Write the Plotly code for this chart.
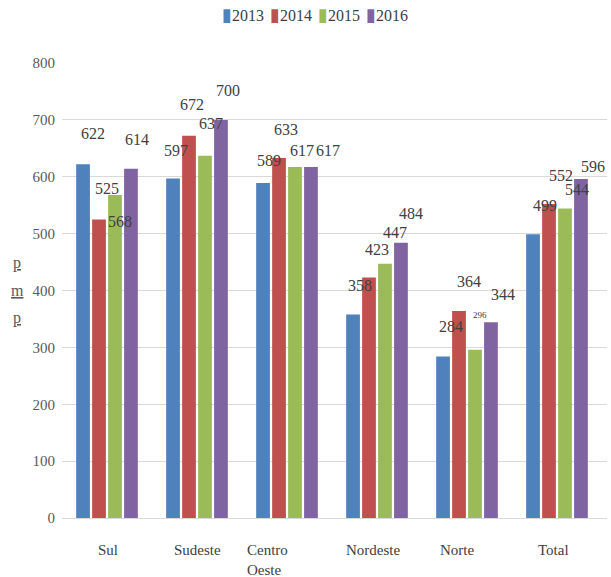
import plotly.graph_objects as go

categories = ["Sul", "Sudeste", "Centro Oeste", "Nordeste", "Norte", "Total"]
cat_labels = ["Sul", "Sudeste", "Centro<br>Oeste", "Nordeste", "Norte", "Total"]
years = ["2013", "2014", "2015", "2016"]
v2013 = [622, 597, 589, 358, 284, 499]
v2014 = [525, 672, 633, 423, 364, 552]
v2015 = [568, 637, 617, 447, 296, 544]
v2016 = [614, 700, 617, 484, 344, 596]
series = [v2013, v2014, v2015, v2016]
colors = ["#4F81BD", "#C0504D", "#9BBB59", "#8064A2"]

label_dx = [
    [10, 3, 6, 7, 8, 12],
    [8, 3, 7, 8, 10, 12],
    [5, 6, 7, 10, 5, 12],
    [6, 7, 17, 10, 12, 12],
]
label_dy = [
    [31, 28, 23, 29, 30, 29],
    [31, 31, 28, 28, 29, 29],
    [-27, 32, 17, 31, 35, 19],
    [29, 29, 17, 29, 28, 13],
]
label_size = [
    [16] * 6,
    [16] * 6,
    [16, 16, 16, 16, 9, 16],
    [16] * 6,
]
cat_dx = [1, 0, -20, -4, -10, -4]

SERIF = "Liberation Serif"
fig = go.Figure()
for yr, vals, col in zip(years, series, colors):
    fig.add_trace(go.Bar(name=yr, x=categories, y=vals, marker_color=col,
                         marker_line_width=0))

annotations = []
slot = 16
for i, vals in enumerate(series):
    for j, v in enumerate(vals):
        annotations.append(dict(
            x=categories[j], y=v, xref="x", yref="y", text=str(v), showarrow=False,
            xanchor="center", yanchor="middle",
            xshift=(i - 1.5) * slot + label_dx[i][j], yshift=label_dy[i][j],
            font=dict(family=SERIF, size=label_size[i][j], color="#404040")))

for j, lab in enumerate(cat_labels):
    annotations.append(dict(
        x=categories[j], y=0, xref="x", yref="y", text=lab, showarrow=False,
        xanchor="center", yanchor="top", align="left", xshift=cat_dx[j], yshift=-22,
        font=dict(family=SERIF, size=15, color="#404040")))

L, R, T, B, W, H = 62, 4, 63, 59, 611, 577
pw, ph = W - L - R, H - T - B
for ch, py in zip(["p", "m", "p"], [263, 290, 318]):
    annotations.append(dict(
        x=(17 - L) / pw, y=1 - (py - T) / ph, xref="paper", yref="paper",
        text="<span style='text-decoration:underline wavy #e03030'>" + ch + "</span>",
        showarrow=False, xanchor="center", yanchor="middle",
        font=dict(family=SERIF, size=16, color="#595959")))

# legend (compact, Office style)
for k, (yr, col) in enumerate(zip(years, colors)):
    annotations.append(dict(
        x=(220 + 48 * k - L) / pw, y=1 - (15 - T) / ph, xref="paper", yref="paper",
        text=("<span style='font-family:DejaVu Sans;font-size:18px;color:" + col
              + "'>▮</span>" + yr),
        showarrow=False, xanchor="left", yanchor="middle",
        font=dict(family=SERIF, size=16, color="#404040")))

fig.update_layout(
    width=W, height=H,
    margin=dict(l=L, r=R, t=T, b=B),
    paper_bgcolor="white", plot_bgcolor="white",
    barmode="group", bargap=0.29, bargroupgap=0.14,
    font=dict(family=SERIF, color="#595959"),
    showlegend=False,
    xaxis=dict(showticklabels=False, showgrid=False, showline=True,
               linecolor="#d9d9d9", linewidth=1, ticks="", zeroline=False),
    yaxis=dict(range=[0, 800], dtick=100, showgrid=True, gridcolor="#d9d9d9",
               gridwidth=1, zeroline=False, showline=False, ticks="",
               tickfont=dict(family=SERIF, size=15, color="#595959"),
               ticklabelstandoff=6),
    annotations=annotations,
)
fig.write_html("out.html")
